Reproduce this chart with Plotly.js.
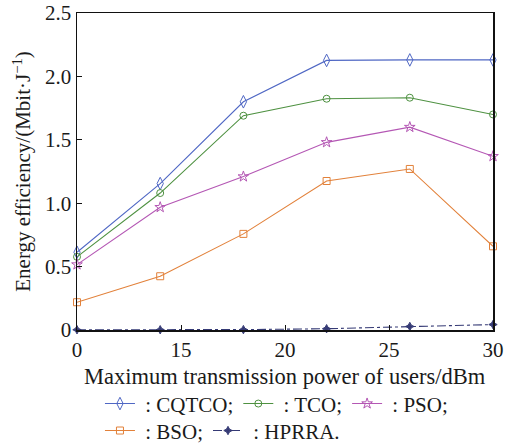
<!DOCTYPE html>
<html>
<head>
<meta charset="utf-8">
<script src="https://cdn.plot.ly/plotly-3.0.1.min.js"></script>
<style>
  html, body { margin: 0; padding: 0; background: #fff; }
  #chart { width: 510px; height: 445px; }
</style>
</head>
<body>
<div id="chart"></div>
<script>
// Sample positions along the horizontal axis (evenly spaced measurement points)
const xIndex = [0, 1, 2, 3, 4, 5];

// Axis tick labels (dBm)
const xTickPos = [0, 1.25, 2.5, 3.75, 5];
const xTickText = ["0", "15", "20", "25", "30"];
const yTickPos = [0, 0.5, 1.0, 1.5, 2.0, 2.5];
const yTickText = ["0", "0.5", "1.0", "1.5", "2.0", "2.5"];

// Energy efficiency per scheme (Mbit/J)
const cqtco = [0.613, 1.155, 1.80, 2.126, 2.13, 2.13];
const tco   = [0.577, 1.08, 1.69, 1.824, 1.832, 1.70];
const pso   = [0.516, 0.968, 1.21, 1.48, 1.60, 1.37];
const bso   = [0.219, 0.424, 0.758, 1.175, 1.27, 0.66];
const hprra = [0.002, 0.002, 0.003, 0.010, 0.028, 0.043];

const xTitle = "Maximum transmission power of users/dBm";
const yTitle = "Energy efficiency/(Mbit·J<sup>−1</sup>)";

const serif = "Liberation Serif, Times New Roman, serif";
const ink = "#1a1a1a";

function series(name, y, color, symbol, size, legendId, dash) {
  return {
    type: "scatter",
    mode: "lines+markers",
    name: name,
    legend: legendId,
    x: xIndex,
    y: y,
    line: { color: color, width: 1.1, dash: dash || "solid" },
    marker: { symbol: symbol, size: size, color: color, line: { color: color, width: 1 } },
    cliponaxis: false
  };
}

const traces = [
  series(" : CQTCO;", cqtco, "#4f67c4", "diamond-tall-open", 9, "legend"),
  series(" : TCO;", tco, "#4e9141", "circle-open", 7, "legend"),
  series(" : PSO;", pso, "#b457b4", "star-open", 8, "legend"),
  series(" : BSO;", bso, "#e2813a", "square-open", 7, "legend2"),
  series(" : HPRRA.", hprra, "#353a75", "star-diamond", 6, "legend2", "dashdot")
];

// Two single-row legends stacked under the x-axis title
function legendRow(y) {
  return {
    orientation: "h",
    xref: "container",
    yref: "container",
    x: 0.196, xanchor: "left",
    y: y, yanchor: "top",
    font: { family: serif, size: 21, color: ink },
    tracegroupgap: 0,
    itemwidth: 30,
    bgcolor: "rgba(0,0,0,0)"
  };
}

const layout = {
  width: 510,
  height: 445,
  margin: { l: 77, r: 17, t: 13, b: 114.5, autoexpand: false },
  paper_bgcolor: "#fff",
  plot_bgcolor: "#fff",
  font: { family: serif, size: 21, color: ink },
  showlegend: true,
  legend: legendRow(0.1384),
  legend2: legendRow(0.0778),
  // x-axis title placed just below the tick labels
  annotations: [{
    text: xTitle,
    xref: "paper", yref: "paper",
    x: 0.5, y: -0.148,
    xanchor: "center", yanchor: "middle",
    showarrow: false,
    font: { family: serif, size: 22.5, color: ink }
  }],
  xaxis: {
    range: [0, 5],
    tickmode: "array",
    tickvals: xTickPos,
    ticktext: xTickText,
    ticks: "inside",
    ticklen: 5,
    tickcolor: "#111",
    showline: true,
    linecolor: "#111",
    linewidth: 1.5,
    mirror: true,
    showgrid: false,
    zeroline: false,
    automargin: false,
    tickfont: { family: serif, size: 21, color: ink }
  },
  yaxis: {
    range: [0, 2.5],
    tickmode: "array",
    tickvals: yTickPos,
    ticktext: yTickText,
    ticks: "inside",
    ticklen: 5,
    tickcolor: "#111",
    showline: true,
    linecolor: "#111",
    linewidth: 1.5,
    mirror: true,
    showgrid: false,
    zeroline: false,
    automargin: false,
    tickfont: { family: serif, size: 21, color: ink },
    title: { text: yTitle, font: { family: serif, size: 21, color: ink }, standoff: 8 }
  }
};

Plotly.newPlot("chart", traces, layout, { staticPlot: true, displayModeBar: false });
</script>
</body>
</html>
